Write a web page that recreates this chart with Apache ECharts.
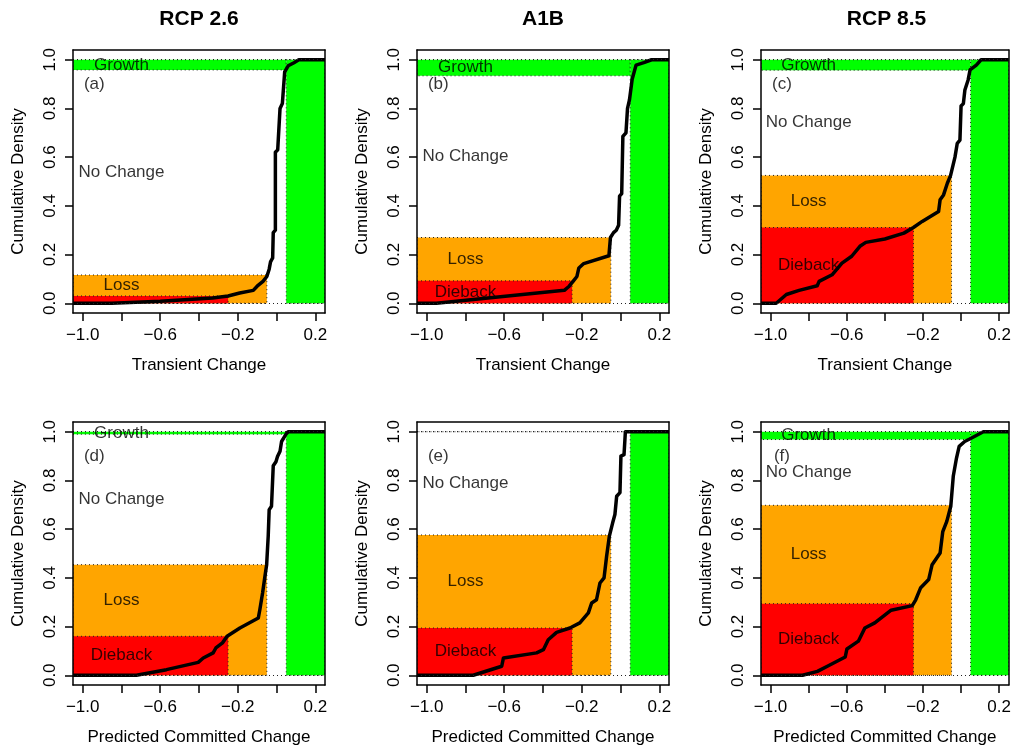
<!DOCTYPE html>
<html>
<head>
<meta charset="utf-8">
<script src="https://cdn.jsdelivr.net/npm/echarts@6/dist/echarts.min.js"></script>
<style>
  html, body { margin: 0; padding: 0; background: #fff; }
  #main { width: 1014px; height: 749px; }
</style>
</head>
<body>
<div id="main"></div>
<script>
// scenarios across, transient / committed down
var scenarios = ['RCP 2.6', 'A1B', 'RCP 8.5'];
var xNames = ['Transient Change', 'Predicted Committed Change'];
var panelTags = ['(a)', '(b)', '(c)', '(d)', '(e)', '(f)'];

var xTicks = [-1.0, -0.8, -0.6, -0.4, -0.2, 0.0, 0.2];
var xLabelTicks = [-1.0, -0.6, -0.2, 0.2];
var yTicks = [0.0, 0.2, 0.4, 0.6, 0.8, 1.0];

// class boundaries on the change axis
var diebackEdge = -0.25;
var lossEdge = -0.05;
var growthEdge = 0.05;

// cumulative density at the boundaries, panels a..f
var diebackFrac = [0.03, 0.092, 0.311, 0.16, 0.194, 0.294];
var lossFrac = [0.116, 0.27, 0.525, 0.454, 0.576, 0.698];
var growthStart = [0.958, 0.934, 0.957, 0.99, 1.0, 0.968];
var showDieback = [false, true, true, true, true, true];
var showGrowth = [true, true, true, true, false, true];

// empirical CDF curves
var cdfA = [[-1.05,0],[-0.85,0],[-0.6,0.008],[-0.33,0.022],[-0.25,0.03],[-0.19,0.042],[-0.12,0.053],[-0.1,0.07],[-0.07,0.09],[-0.05,0.11],[-0.038,0.14],[-0.031,0.17],[-0.02,0.186],[-0.017,0.29],[-0.006,0.30],[-0.006,0.62],[0.006,0.63],[0.018,0.80],[0.03,0.82],[0.042,0.95],[0.06,0.975],[0.09,0.988],[0.115,1.0],[0.25,1.0]];
var cdfB = [[-1.05,0],[-0.95,0],[-0.29,0.053],[-0.265,0.07],[-0.245,0.09],[-0.225,0.11],[-0.215,0.145],[-0.19,0.163],[-0.06,0.195],[-0.052,0.27],[-0.036,0.29],[-0.022,0.30],[-0.01,0.32],[-0.005,0.44],[0.006,0.45],[0.012,0.685],[0.028,0.70],[0.036,0.80],[0.046,0.835],[0.06,0.92],[0.08,0.978],[0.12,0.988],[0.16,1.0],[0.25,1.0]];
var cdfC = [[-1.05,0],[-0.97,0],[-0.917,0.036],[-0.85,0.053],[-0.755,0.072],[-0.745,0.09],[-0.677,0.117],[-0.625,0.165],[-0.574,0.193],[-0.531,0.234],[-0.5,0.25],[-0.4,0.264],[-0.3,0.288],[-0.25,0.311],[-0.204,0.336],[-0.118,0.377],[-0.11,0.425],[-0.092,0.445],[-0.072,0.493],[-0.055,0.525],[-0.032,0.60],[-0.02,0.657],[-0.006,0.67],[0,0.81],[0.012,0.82],[0.02,0.876],[0.037,0.917],[0.047,0.958],[0.08,0.978],[0.105,1.0],[0.25,1.0]];
var cdfD = [[-1.05,0],[-0.723,0],[-0.568,0.023],[-0.404,0.053],[-0.378,0.071],[-0.327,0.092],[-0.313,0.112],[-0.279,0.133],[-0.255,0.16],[-0.189,0.194],[-0.094,0.235],[-0.086,0.27],[-0.072,0.338],[-0.06,0.406],[-0.051,0.454],[-0.043,0.57],[-0.038,0.68],[-0.026,0.694],[-0.017,0.86],[-0.003,0.877],[0.005,0.898],[0.018,0.92],[0.026,0.96],[0.049,0.99],[0.06,1.0],[0.25,1.0]];
var cdfE = [[-1.05,0],[-0.76,0],[-0.613,0.037],[-0.604,0.071],[-0.433,0.092],[-0.398,0.105],[-0.373,0.146],[-0.33,0.176],[-0.261,0.194],[-0.21,0.215],[-0.166,0.256],[-0.149,0.297],[-0.124,0.31],[-0.106,0.379],[-0.085,0.40],[-0.072,0.488],[-0.058,0.57],[-0.041,0.625],[-0.029,0.66],[-0.02,0.735],[-0.003,0.75],[0.002,0.90],[0.018,0.906],[0.025,1.0],[0.25,1.0]];
var cdfF = [[-1.05,0],[-0.832,0],[-0.754,0.016],[-0.694,0.04],[-0.608,0.075],[-0.599,0.108],[-0.539,0.14],[-0.505,0.194],[-0.453,0.215],[-0.367,0.267],[-0.256,0.286],[-0.238,0.31],[-0.213,0.358],[-0.17,0.393],[-0.152,0.454],[-0.11,0.502],[-0.096,0.59],[-0.075,0.632],[-0.054,0.694],[-0.041,0.817],[-0.024,0.892],[-0.01,0.94],[0.019,0.96],[0.045,0.97],[0.117,1.0],[0.25,1.0]];
var cdfs = [cdfA, cdfB, cdfC, cdfD, cdfE, cdfF];

var X_MIN = -1.05, X_MAX = 0.25, Y_MIN = -0.04, Y_MAX = 1.04;
var FONT = '"Liberation Sans", Arial, Helvetica, sans-serif';
var regionColors = ['#FFA500', '#FF0000', '#00FF00', '#00FF00'];

var gridLefts = [73, 417, 761];
var gridWidths = [252, 252, 251];
var gridTops = [50, 422];
var GRID_H = 263;

function fmtX(v) {
	var s = Math.abs(v).toFixed(1);
	return v < 0 ? '\u2212' + s : s;
}

function renderRect(params, api) {
	var p0 = api.coord([api.value(0), api.value(3)]);
	var p1 = api.coord([api.value(2), api.value(1)]);
	return {
		type: 'rect',
		shape: { x: p0[0], y: p0[1], width: p1[0] - p0[0], height: p1[1] - p0[1] },
		style: {
			fill: regionColors[api.value(4)],
			stroke: '#222',
			lineWidth: 1,
			lineDash: [1, 3]
		}
	};
}

var grids = [], xAxes = [], yAxes = [], series = [], titles = [];
var lineC = { color: '#000', width: 1.5 };

for (var i = 0; i < 6; i++) {
	var row = Math.floor(i / 3), col = i % 3;
	grids.push({ left: gridLefts[col], top: gridTops[row], width: gridWidths[col], height: GRID_H });

	xAxes.push({
		gridIndex: i, type: 'value', min: X_MIN, max: X_MAX, position: 'bottom', z: 10,
		axisLine: { show: true, onZero: false, lineStyle: lineC },
		axisTick: { show: true, inside: false, length: 8, customValues: xTicks, lineStyle: lineC },
		axisLabel: { customValues: xLabelTicks, formatter: fmtX, fontSize: 17, color: '#000', fontFamily: FONT, margin: 14 },
		splitLine: { show: false },
		name: xNames[row], nameLocation: 'middle', nameGap: 44,
		nameTextStyle: { fontSize: 17, color: '#000', fontFamily: FONT }
	});
	xAxes.push({
		gridIndex: i, type: 'value', min: X_MIN, max: X_MAX, position: 'top', z: 10,
		axisLine: { show: true, onZero: false, lineStyle: lineC },
		axisTick: { show: false }, axisLabel: { show: false }, splitLine: { show: false }
	});
	yAxes.push({
		gridIndex: i, type: 'value', min: Y_MIN, max: Y_MAX, position: 'left', z: 10,
		axisLine: { show: true, onZero: false, lineStyle: lineC },
		axisTick: { show: true, inside: false, length: 8, customValues: yTicks, lineStyle: lineC },
		axisLabel: { customValues: yTicks, rotate: 90, formatter: function (v) { return v.toFixed(1); },
			fontSize: 17, color: '#000', fontFamily: FONT, margin: 14 },
		splitLine: { show: false },
		name: 'Cumulative Density', nameLocation: 'middle', nameGap: 46,
		nameTextStyle: { fontSize: 17, color: '#000', fontFamily: FONT }
	});
	yAxes.push({
		gridIndex: i, type: 'value', min: Y_MIN, max: Y_MAX, position: 'right', z: 10,
		axisLine: { show: true, onZero: false, lineStyle: lineC },
		axisTick: { show: false }, axisLabel: { show: false }, splitLine: { show: false }
	});

	var D = diebackFrac[i], L = lossFrac[i], G = growthStart[i];
	var rects = [
		[X_MIN, 0, lossEdge, L, 0],
		[X_MIN, 0, diebackEdge, D, 1],
		[X_MIN, G, growthEdge, 1, 3],
		[growthEdge, 0, X_MAX, 1, 2]
	];
	series.push({
		type: 'custom', xAxisIndex: 2 * i, yAxisIndex: 2 * i, z: 1, silent: true, clip: true,
		renderItem: renderRect, encode: { x: [0, 2], y: [1, 3] }, data: rects
	});

	series.push({
		type: 'line', xAxisIndex: 2 * i, yAxisIndex: 2 * i, z: 3, silent: true,
		data: cdfs[i], showSymbol: false, symbol: 'none',
		lineStyle: { color: '#000', width: 3.5, join: 'round' },
		markLine: {
			silent: true, symbol: 'none', label: { show: false },
			lineStyle: { color: '#222', width: 1, type: [1, 3] },
			data: [{ yAxis: 0 }, { yAxis: 1 }]
		}
	});

	var labels = [
		{ name: panelTags[i], value: [-0.94, 0.9] },
		{ name: 'No Change', value: [-0.8, (L + G) / 2] },
		{ name: 'Loss', value: [-0.8, (D + L) / 2] }
	];
	if (showGrowth[i]) labels.push({ name: 'Growth', value: [-0.8, (G + 1) / 2] });
	if (showDieback[i]) labels.push({ name: 'Dieback', value: [-0.8, D / 2] });
	series.push({
		type: 'scatter', xAxisIndex: 2 * i, yAxisIndex: 2 * i, z: 4, silent: true,
		symbolSize: 1, itemStyle: { color: 'rgba(0,0,0,0)' },
		label: { show: true, position: 'inside', formatter: '{b}', fontSize: 17, color: '#000', fontFamily: FONT },
		data: labels
	});
}

for (var c = 0; c < 3; c++) {
	titles.push({
		text: scenarios[c], left: gridLefts[c] + gridWidths[c] / 2, top: 9, textAlign: 'center', padding: 0,
		textStyle: { fontSize: 21, fontWeight: 'bold', color: '#000', fontFamily: FONT }
	});
}

var chart = echarts.init(document.getElementById('main'));
chart.setOption({
	animation: false,
	backgroundColor: '#fff',
	title: titles,
	grid: grids,
	xAxis: xAxes,
	yAxis: yAxes,
	series: series
});
</script>
</body>
</html>
